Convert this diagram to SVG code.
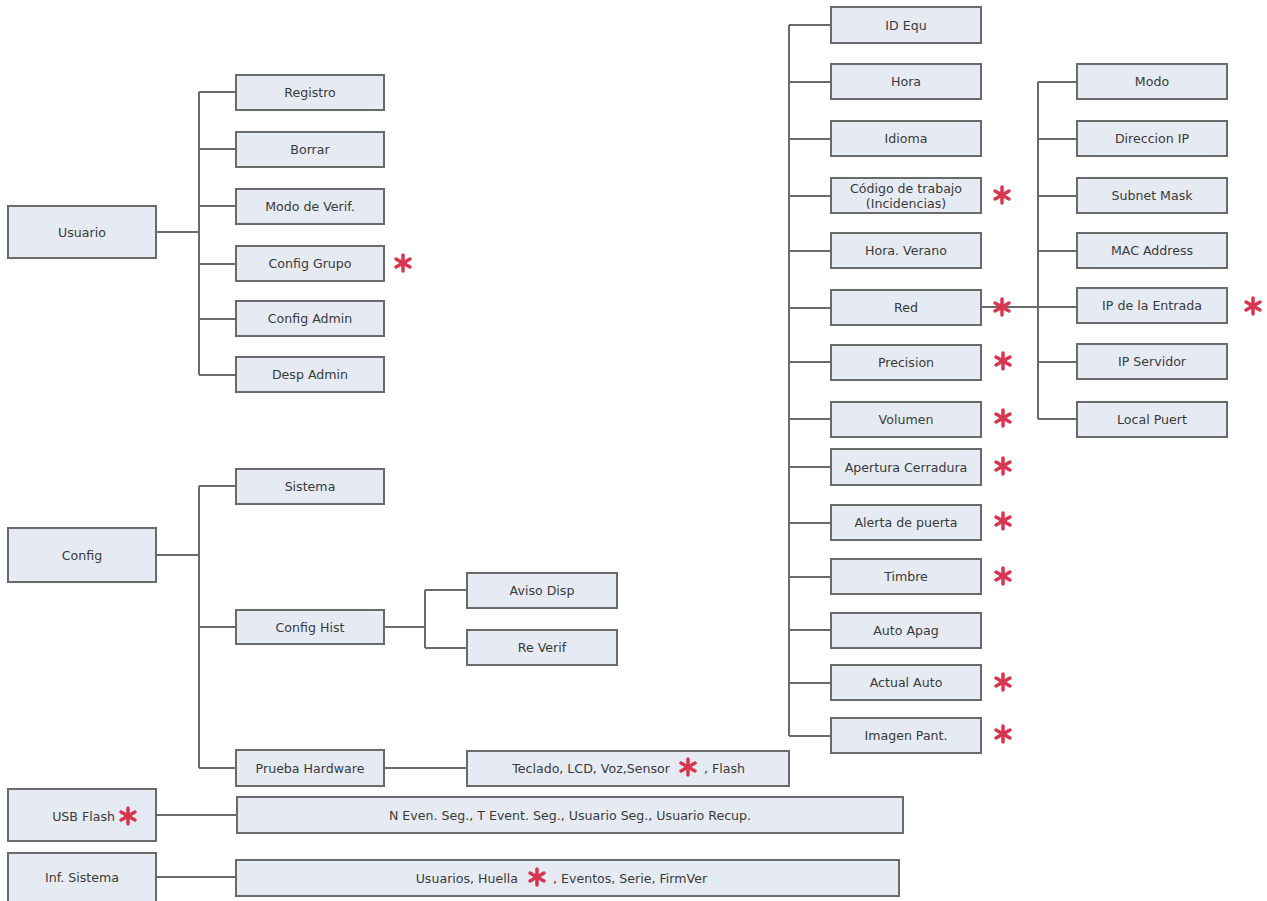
<svg xmlns="http://www.w3.org/2000/svg" width="1267" height="901" viewBox="0 0 1267 901">
<style>
.b{fill:#e6ebf3;stroke:#6a6a6a;stroke-width:2}
.t{font-family:"DejaVu Sans","Liberation Sans",sans-serif;font-size:12.6px;fill:#3a3a3a;text-anchor:middle;dominant-baseline:central}
.tl{font-family:"DejaVu Sans","Liberation Sans",sans-serif;font-size:12.6px;fill:#3a3a3a;dominant-baseline:central}
.te{font-family:"DejaVu Sans","Liberation Sans",sans-serif;font-size:12.6px;fill:#3a3a3a;text-anchor:end;dominant-baseline:central}
.c{fill:none;stroke:#6a6a6a;stroke-width:2}
</style>
<defs>
<g id="star" stroke="#d8354f" stroke-width="3.5" stroke-linecap="round">
<line x1="0" y1="-8" x2="0" y2="8"/>
<line x1="-7" y1="-4" x2="7" y2="4"/>
<line x1="-7" y1="4" x2="7" y2="-4"/>
</g>
</defs>
<rect width="1267" height="901" fill="#ffffff"/>
<g id="connectors">
<path class="c" d="M156 232H199M199 92V375M199 92H236M199 149H236M199 206H236M199 264H236M199 319H236M199 375H236"/>
<path class="c" d="M156 555H199M199 486V768M199 486H236M199 627H236M199 768H236"/>
<path class="c" d="M384 627H425M425 590V648M425 590H467M425 648H467"/>
<path class="c" d="M384 768H467"/>
<path class="c" d="M156 815H237M156 877H236"/>
<path class="c" d="M789 25V736M789 25H831M789 82H831M789 139H831M789 196H831M789 251H831M789 308H831M789 362H831M789 419H831M789 467H831M789 523H831M789 577H831M789 630H831M789 683H831M789 736H831"/>
<path class="c" d="M981 307H1077M1038 82V419M1038 82H1077M1038 139H1077M1038 196H1077M1038 251H1077M1038 362H1077M1038 419H1077"/>
</g>
<g id="usuario"><rect class="b" x="8" y="206" width="148" height="52"/><text class="t" x="82" y="232">Usuario</text></g>
<g id="registro"><rect class="b" x="236" y="75" width="148" height="35"/><text class="t" x="310" y="92">Registro</text></g>
<g id="borrar"><rect class="b" x="236" y="132" width="148" height="35"/><text class="t" x="310" y="149">Borrar</text></g>
<g id="modo-verif"><rect class="b" x="236" y="189" width="148" height="35"/><text class="t" x="310" y="206">Modo de Verif.</text></g>
<g id="config-grupo"><rect class="b" x="236" y="246" width="148" height="35"/><text class="t" x="310" y="263">Config Grupo</text><use href="#star" x="403" y="263"/></g>
<g id="config-admin"><rect class="b" x="236" y="301" width="148" height="35"/><text class="t" x="310" y="318">Config Admin</text></g>
<g id="desp-admin"><rect class="b" x="236" y="357" width="148" height="35"/><text class="t" x="310" y="374">Desp Admin</text></g>

<g id="config"><rect class="b" x="8" y="528" width="148" height="54"/><text class="t" x="82" y="555">Config</text></g>
<g id="sistema"><rect class="b" x="236" y="469" width="148" height="35"/><text class="t" x="310" y="486">Sistema</text></g>
<g id="config-hist"><rect class="b" x="236" y="610" width="148" height="34"/><text class="t" x="310" y="627">Config Hist</text></g>
<g id="aviso-disp"><rect class="b" x="467" y="573" width="150" height="35"/><text class="t" x="542" y="590">Aviso Disp</text></g>
<g id="re-verif"><rect class="b" x="467" y="630" width="150" height="35"/><text class="t" x="542" y="647">Re Verif</text></g>
<g id="prueba-hw"><rect class="b" x="236" y="750" width="148" height="36"/><text class="t" x="310" y="768">Prueba Hardware</text></g>
<g id="teclado"><rect class="b" x="467" y="751" width="322" height="35"/><text class="te" x="670" y="768">Teclado, LCD, Voz,Sensor</text><use href="#star" x="688" y="767"/><text class="tl" x="704" y="768">, Flash</text></g>

<g id="usb-flash"><rect class="b" x="8" y="789" width="148" height="52"/><text class="te" x="115" y="816">USB Flash</text><use href="#star" x="128" y="816"/></g>
<g id="usb-items"><rect class="b" x="237" y="797" width="666" height="36"/><text class="t" x="570" y="815">N Even. Seg., T Event. Seg., Usuario Seg., Usuario Recup.</text></g>
<g id="inf-sistema"><rect class="b" x="8" y="853" width="148" height="52"/><text class="t" x="82" y="877">Inf. Sistema</text></g>
<g id="inf-items"><rect class="b" x="236" y="860" width="663" height="36"/><text class="te" x="518" y="878">Usuarios, Huella</text><use href="#star" x="537" y="877"/><text class="tl" x="553" y="878">, Eventos, Serie, FirmVer</text></g>

<g id="id-equ"><rect class="b" x="831" y="7" width="150" height="36"/><text class="t" x="906" y="25">ID Equ</text></g>
<g id="hora"><rect class="b" x="831" y="64" width="150" height="35"/><text class="t" x="906" y="81">Hora</text></g>
<g id="idioma"><rect class="b" x="831" y="121" width="150" height="35"/><text class="t" x="906" y="138">Idioma</text></g>
<g id="codigo"><rect class="b" x="831" y="178" width="150" height="35"/><text class="t" x="906" y="188">Código de trabajo</text><text class="t" x="906" y="203">(Incidencias)</text><use href="#star" x="1002" y="195"/></g>
<g id="hora-verano"><rect class="b" x="831" y="233" width="150" height="35"/><text class="t" x="906" y="250">Hora. Verano</text></g>
<g id="red"><rect class="b" x="831" y="290" width="150" height="35"/><text class="t" x="906" y="307">Red</text><use href="#star" x="1002" y="307"/></g>
<g id="precision"><rect class="b" x="831" y="345" width="150" height="35"/><text class="t" x="906" y="362">Precision</text><use href="#star" x="1003" y="361"/></g>
<g id="volumen"><rect class="b" x="831" y="402" width="150" height="35"/><text class="t" x="906" y="419">Volumen</text><use href="#star" x="1003" y="418"/></g>
<g id="apertura"><rect class="b" x="831" y="449" width="150" height="36"/><text class="t" x="906" y="467">Apertura Cerradura</text><use href="#star" x="1003" y="466"/></g>
<g id="alerta"><rect class="b" x="831" y="505" width="150" height="35"/><text class="t" x="906" y="522">Alerta de puerta</text><use href="#star" x="1003" y="521"/></g>
<g id="timbre"><rect class="b" x="831" y="559" width="150" height="35"/><text class="t" x="906" y="576">Timbre</text><use href="#star" x="1003" y="576"/></g>
<g id="auto-apag"><rect class="b" x="831" y="613" width="150" height="35"/><text class="t" x="906" y="630">Auto Apag</text></g>
<g id="actual-auto"><rect class="b" x="831" y="665" width="150" height="35"/><text class="t" x="906" y="682">Actual Auto</text><use href="#star" x="1003" y="682"/></g>
<g id="imagen-pant"><rect class="b" x="831" y="718" width="150" height="35"/><text class="t" x="906" y="735">Imagen Pant.</text><use href="#star" x="1003" y="734"/></g>

<g id="modo"><rect class="b" x="1077" y="64" width="150" height="35"/><text class="t" x="1152" y="81">Modo</text></g>
<g id="direccion-ip"><rect class="b" x="1077" y="121" width="150" height="35"/><text class="t" x="1152" y="138">Direccion IP</text></g>
<g id="subnet"><rect class="b" x="1077" y="178" width="150" height="35"/><text class="t" x="1152" y="195">Subnet Mask</text></g>
<g id="mac"><rect class="b" x="1077" y="233" width="150" height="35"/><text class="t" x="1152" y="250">MAC Address</text></g>
<g id="ip-entrada"><rect class="b" x="1077" y="288" width="150" height="35"/><text class="t" x="1152" y="305">IP de la Entrada</text><use href="#star" x="1253" y="306"/></g>
<g id="ip-servidor"><rect class="b" x="1077" y="344" width="150" height="35"/><text class="t" x="1152" y="361">IP Servidor</text></g>
<g id="local-puert"><rect class="b" x="1077" y="402" width="150" height="35"/><text class="t" x="1152" y="419">Local Puert</text></g>
</svg>
